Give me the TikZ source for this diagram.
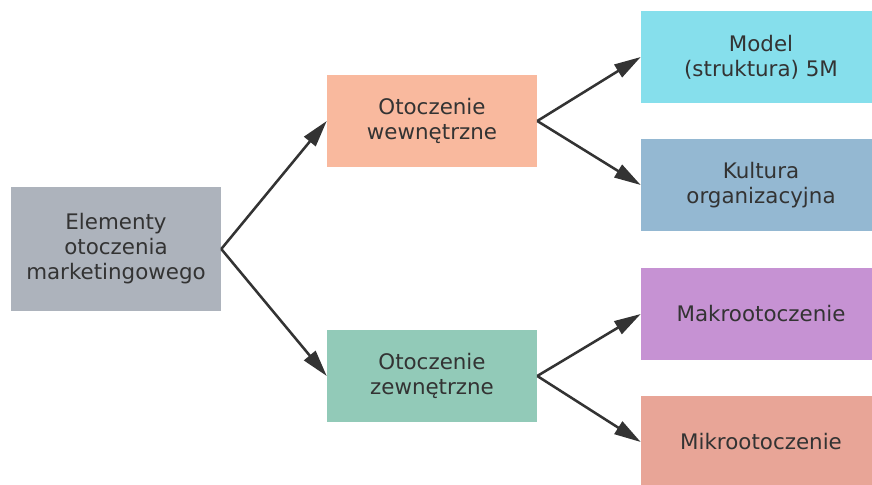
\documentclass[tikz,border=0pt]{standalone}
\usepackage{fontspec}
\setmainfont{DejaVu Sans}
\usepackage{tikz}
\usetikzlibrary{arrows.meta}
\usetikzlibrary{positioning}
\definecolor{textgray}{HTML}{333333}
\definecolor{boxgray}{HTML}{ADB3BC}
\definecolor{boxpeach}{HTML}{F9B99E}
\definecolor{boxteal}{HTML}{92CAB8}
\definecolor{boxcyan}{HTML}{86DFEC}
\definecolor{boxblue}{HTML}{94B8D2}
\definecolor{boxpurple}{HTML}{C692D3}
\definecolor{boxsalmon}{HTML}{E8A597}
\tikzstyle{box}=[rectangle,inner sep=0pt,align=center,text=textgray,font=\fontsize{16.05}{18.75}\selectfont,minimum width=157.5pt,minimum height=69pt]
\tikzstyle{widebox}=[box,minimum width=180pt]
\tikzstyle{edge} = [draw,line width=1.9pt,textgray,-{Triangle[length=20pt,width=11pt]}]

\begin{document}
\begin{tikzpicture}[x=0.75pt,y=-0.75pt]
    \useasboundingbox (0,0) rectangle (872,485);
    \clip (0,0) rectangle (872,485);

    \node[box,fill=boxgray,minimum height=93pt] (elementy) at (116,249) {Elementy\\otoczenia\\marketingowego};
    \node[box,fill=boxpeach] (wewn) at (432,121) {Otoczenie\\wewnętrzne};
    \node[box,fill=boxteal] (zewn) at (432,376) {Otoczenie\\zewnętrzne};

    \foreach \pos/\name/\col/\txt in {(761,57)/model/boxcyan/{Model\\(struktura) 5M}, (761,185)/kultura/boxblue/{Kultura\\organizacyjna}, (761,314)/makro/boxpurple/Makrootoczenie, (761,442)/mikro/boxsalmon/Mikrootoczenie}
        \node[widebox,fill=\col] (\name) at \pos {\txt};

    \foreach \source/\dest in {elementy/wewn, elementy/zewn, wewn/model, wewn/kultura, zewn/makro, zewn/mikro}
        \path[edge] (\source.east) -- (\dest.west);

\end{tikzpicture}
\end{document}
